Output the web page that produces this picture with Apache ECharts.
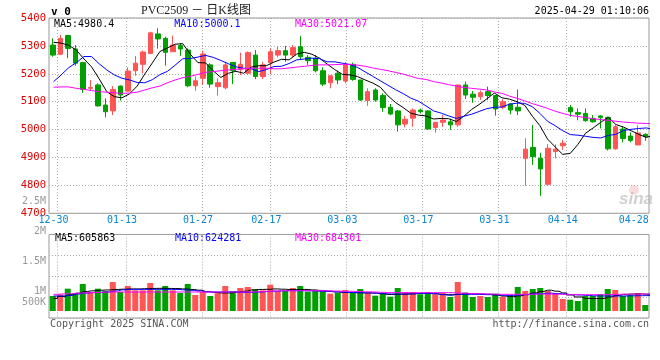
<!DOCTYPE html>
<html>
<head>
<meta charset="utf-8">
<script src="https://cdn.jsdelivr.net/npm/echarts@6/dist/echarts.min.js"></script>
<style>
html,body{margin:0;padding:0;background:#fff;}
#chart{width:660px;height:360px;}
</style>
</head>
<body>
<div id="chart"></div>
<script>
// ---------- data ----------
const dates = ['12-27','12-30','12-31','01-02','01-03','01-06','01-07','01-08','01-09','01-10',
'01-13','01-14','01-15','01-16','01-17','01-20','01-21','01-22','01-23','01-24',
'01-27','02-05','02-06','02-07','02-10','02-11','02-12','02-13','02-14','02-17',
'02-18','02-19','02-20','02-21','02-24','02-25','02-26','02-27','02-28','03-03',
'03-04','03-05','03-06','03-07','03-10','03-11','03-12','03-13','03-14','03-17',
'03-18','03-19','03-20','03-21','03-24','03-25','03-26','03-27','03-28','03-31',
'04-01','04-02','04-03','04-07','04-08','04-09','04-10','04-11','04-14','04-15',
'04-16','04-17','04-18','04-21','04-22','04-23','04-24','04-25','04-28','04-29'];

const opens = [5303,5270,5337,5289,5240,5148,5160,5088,5067,5156,
5138,5211,5234,5273,5343,5327,5279,5301,5285,5157,
5184,5232,5154,5150,5241,5216,5202,5267,5190,5240,
5267,5283,5267,5297,5259,5256,5211,5168,5202,5174,
5234,5178,5104,5142,5122,5080,5067,5020,5041,5070,
5067,5007,5026,5028,5017,5160,5127,5118,5136,5122,
5080,5092,5080,4897,4936,4897,4804,4921,4942,5079,
5061,5058,5040,5049,5044,4931,5002,4977,4945,4983];

const closes = [5267,5327,5291,5238,5144,5151,5085,5064,5144,5124,
5210,5238,5278,5347,5325,5277,5303,5289,5157,5175,
5271,5163,5168,5232,5211,5234,5276,5190,5232,5279,
5283,5267,5294,5261,5247,5211,5163,5193,5178,5234,
5180,5106,5136,5106,5079,5056,5017,5037,5070,5064,
5002,5026,5034,5017,5160,5124,5116,5132,5122,5074,
5100,5070,5067,4930,4903,4859,4933,4930,4951,5064,
5055,5032,5028,5043,4931,5010,4968,4961,4988,4975];

const lows = [5261,5268,5256,5229,5132,5139,5082,5044,5052,5104,
5136,5193,5202,5270,5290,5229,5279,5264,5152,5139,
5160,5150,5122,5144,5163,5196,5198,5181,5181,5199,
5259,5243,5258,5249,5232,5205,5156,5148,5163,5166,
5175,5103,5085,5100,5064,5052,4993,5008,5010,5058,
4999,4989,5010,4999,5010,5110,5096,5106,5106,5050,
5073,5055,5052,4799,4873,4763,4799,4897,4927,5046,
5034,5028,5025,5004,4925,4928,4954,4954,4945,4960];

const highs = [5327,5339,5340,5303,5243,5178,5166,5112,5156,5158,
5223,5264,5283,5351,5363,5333,5337,5309,5291,5190,
5283,5238,5184,5243,5241,5276,5280,5285,5243,5291,
5297,5300,5303,5335,5267,5267,5223,5193,5211,5243,
5240,5178,5148,5148,5130,5092,5070,5049,5076,5075,
5070,5028,5052,5039,5160,5172,5138,5140,5154,5124,
5109,5095,5144,4969,5016,4917,4948,4947,4963,5088,
5076,5076,5052,5052,5046,5016,5010,4990,5016,4987];

const volumes = [599000,665000,891000,718000,1077000,758000,891000,798000,1157000,758000,
998000,825000,825000,1117000,825000,998000,825000,718000,1077000,638000,
758000,599000,758000,998000,798000,918000,958000,865000,825000,1051000,
798000,798000,918000,998000,771000,798000,798000,692000,718000,838000,
732000,878000,718000,612000,692000,572000,918000,758000,758000,665000,
758000,665000,718000,559000,1157000,732000,559000,599000,559000,692000,
559000,625000,958000,798000,878000,918000,798000,692000,479000,452000,
399000,599000,599000,678000,878000,838000,599000,638000,718000,239000];

const ma5 = [5313,5310,5302,5285,5253,5225,5182,5136,5118,5114,
5128,5156,5199,5239,5280,5293,5306,5308,5270,5240,
5239,5211,5187,5202,5209,5202,5224,5229,5229,5242,
5252,5250,5271,5277,5270,5256,5235,5215,5198,5196,
5190,5178,5167,5152,5121,5097,5079,5059,5052,5049,
5038,5040,5039,5029,5048,5072,5090,5110,5131,5114,
5109,5100,5087,5048,5014,4966,4938,4911,4915,4947,
4987,5006,5026,5044,5018,5009,4996,4983,4972,4980.4];

const ma10 = [5172,5196,5222,5240,5262,5262,5236,5214,5196,5184,
5178,5169,5168,5179,5197,5209,5231,5254,5255,5260,
5266,5259,5248,5236,5225,5220,5218,5208,5215,5226,
5227,5237,5250,5253,5256,5254,5243,5243,5238,5233,
5223,5207,5191,5175,5159,5143,5129,5113,5102,5085,
5067,5059,5049,5040,5048,5055,5065,5075,5080,5081,
5091,5095,5094,5082,5058,5030,5014,4996,4982,4980,
4976,4972,4970,4979,4983,4997,5001,5004,5006,5000.1];

const ma30 = [5152,5153,5153,5148,5144,5140,5136,5134,5132,5130,
5131,5134,5142,5150,5156,5168,5178,5186,5191,5198,
5205,5208,5211,5214,5216,5218,5220,5220,5220,5218,
5218,5221,5224,5227,5230,5232,5232,5233,5234,5234,
5231,5227,5221,5216,5211,5205,5199,5191,5183,5180,
5172,5167,5161,5156,5151,5148,5145,5142,5135,5130,
5120,5112,5103,5093,5085,5076,5066,5058,5051,5047,
5043,5039,5036,5033,5030,5027,5025,5023,5022,5021.07];

const volMa5 = [500000,580000,650000,710000,780000,805000,830000,840000,860000,870000,
880000,880000,890000,900000,905000,900000,895000,880000,860000,830000,
780000,740000,720000,720000,745000,790000,840000,860000,865000,880000,
870000,855000,855000,860000,840000,820000,790000,760000,740000,735000,
730000,725000,715000,690000,660000,660000,670000,685000,695000,700000,
690000,660000,650000,660000,700000,690000,680000,665000,640000,595000,
575000,600000,650000,720000,780000,830000,790000,720000,640000,560000,
500000,495000,500000,560000,620000,665000,675000,680000,670000,605863];

const volMa10 = [599000,599000,620000,680000,715000,735000,745000,758000,800000,845000,
865000,865000,865000,865000,865000,865000,860000,845000,825000,800000,
760000,758000,758000,758000,758000,740000,745000,758000,775000,790000,
805000,811000,811000,811000,805000,790000,780000,765000,750000,740000,
730000,725000,718000,700000,680000,678000,678000,685000,700000,700000,
692000,650000,630000,665000,665000,665000,660000,652000,645000,628000,
625000,635000,660000,685000,692000,712000,695000,680000,655000,640000,
625000,605000,599000,599000,600000,600000,605000,610000,615000,624281];

const volMa30 = [665000,678000,690000,710000,725000,735000,745000,758000,758000,758000,
758000,758000,758000,758000,758000,758000,758000,758000,758000,758000,
758000,758000,758000,758000,758000,758000,758000,770000,785000,798000,
805000,811000,811000,811000,811000,811000,805000,795000,785000,785000,
775000,765000,758000,745000,732000,732000,732000,732000,732000,732000,
732000,732000,732000,718000,710000,692000,685000,680000,672000,665000,
665000,665000,665000,670000,678000,675000,670000,665000,655000,652000,
652000,652000,652000,660000,665000,670000,675000,678000,680000,684301];

const xTickLabels = ['12-30','01-13','01-27','02-17','03-03','03-17','03-31','04-14','04-28'];
const volTickValues = [500000,1000000,1500000,2000000,2500000];
const volTickLabels = ['500K','1M','1.5M','2M','2.5M'];

const headerTitle = 'PVC2509 － 日K线图';
const headerMark = 'v 0';
const stamp = '2025-04-29 01:10:06';
const copyright = 'Copyright 2025 SINA.COM';
const siteUrl = 'http://finance.sina.com.cn';

// ---------- build ----------
const RED = '#ff5555', GREEN = '#00a000';
const MONO = '"DejaVu Sans Mono", "Liberation Mono", monospace';
const GRID_LINE = {show: true, lineStyle: {color: '#aaaaaa', width: 1, type: [1, 2]}};

const candleData = opens.map((o, i) => [o, closes[i], lows[i], highs[i]]);
const volData = volumes.map((v, i) => ({
  value: v,
  itemStyle: {color: closes[i] >= opens[i] ? RED : GREEN}
}));
const pts = arr => arr.map((v, i) => [i, v]);

// slot-boundary positions of the date labels on the day-index axis
const labelPos = xTickLabels.map(d => dates.indexOf(d) - 0.5);
const gridPos = labelPos.slice(0, labelPos.length - 1);
const lastLabel = xTickLabels[xTickLabels.length - 1];
const labelAt = v => {
  const k = labelPos.findIndex(p => Math.abs(p - v) < 0.01);
  if (k < 0) return '';
  const t = xTickLabels[k];
  return t === lastLabel ? '{e|' + t + '}' : t;
};

const chart = echarts.init(document.getElementById('chart'), null, {renderer: 'canvas'});

const option = {
  animation: false,
  backgroundColor: '#ffffff',
  grid: [
    {left: 49, right: 11, top: 18, height: 195.3, show: true, borderColor: '#999999', borderWidth: 1, backgroundColor: 'transparent'},
    {left: 49, right: 11, top: 234.5, height: 83.5, show: true, borderColor: '#999999', borderWidth: 1, backgroundColor: 'transparent'},
    {left: 49, right: 11, top: 201, height: 120, show: false}
  ],
  xAxis: [
    {type: 'category', gridIndex: 0, data: dates, boundaryGap: true, position: 'top', show: false},
    {type: 'value', gridIndex: 0, min: -0.6, max: 78.35, position: 'bottom',
      axisLine: {show: false},
      axisTick: {show: false, customValues: gridPos},
      axisLabel: {
        customValues: labelPos, formatter: labelAt, margin: 2,
        color: '#0a86d4', fontFamily: MONO, fontSize: 10,
        padding: [0, 7.6, 0, 0],
        rich: {e: {color: '#0a86d4', fontFamily: MONO, fontSize: 10, padding: [0, 10, 0, 0]}}
      },
      splitLine: GRID_LINE},
    {type: 'category', gridIndex: 1, data: dates, boundaryGap: true, position: 'top', show: false},
    {type: 'value', gridIndex: 1, min: -0.6, max: 78.35, position: 'bottom',
      axisLine: {show: false},
      axisTick: {show: false, customValues: gridPos},
      axisLabel: {show: false},
      splitLine: GRID_LINE},
    {type: 'value', gridIndex: 2, show: false, min: 0, max: 1}
  ],
  yAxis: [
    {type: 'value', gridIndex: 0, min: 4700, max: 5400, interval: 100,
      axisLine: {show: false}, axisTick: {show: false},
      axisLabel: {color: '#e00000', fontFamily: MONO, fontSize: 10.5, margin: 3, formatter: v => String(v)},
      splitLine: GRID_LINE},
    {type: 'value', gridIndex: 1, min: -279300, max: 3052350, show: false},
    {type: 'value', gridIndex: 1, min: 0, max: 4, interval: 1, position: 'right',
      axisLine: {show: false}, axisTick: {show: false}, axisLabel: {show: false},
      splitLine: GRID_LINE},
    {type: 'value', gridIndex: 2, min: 500000, max: 2500000, interval: 500000,
      axisLine: {show: false}, axisTick: {show: false}, splitLine: {show: false},
      axisLabel: {
        color: '#999999', fontFamily: MONO, fontSize: 10, margin: 3,
        formatter: v => {
          const k = volTickValues.indexOf(v);
          if (k < 0) return '';
          return k === 0 ? '{lo|' + volTickLabels[k] + '}' : volTickLabels[k];
        },
        rich: {lo: {color: '#999999', fontFamily: MONO, fontSize: 10, padding: [0, 0, 38, 0]}}
      }}
  ],
  series: [
    {type: 'candlestick', xAxisIndex: 0, yAxisIndex: 0, data: candleData, barWidth: 5,
      itemStyle: {color: RED, color0: GREEN, borderColor: RED, borderColor0: GREEN, borderWidth: 1}},
    {type: 'line', name: 'MA5', xAxisIndex: 1, yAxisIndex: 0, data: pts(ma5), showSymbol: false, symbol: 'none',
      lineStyle: {color: '#000000', width: 1}},
    {type: 'line', name: 'MA10', xAxisIndex: 1, yAxisIndex: 0, data: pts(ma10), showSymbol: false, symbol: 'none',
      lineStyle: {color: '#0000ff', width: 1}},
    {type: 'line', name: 'MA30', xAxisIndex: 1, yAxisIndex: 0, data: pts(ma30), showSymbol: false, symbol: 'none',
      lineStyle: {color: '#ff00ff', width: 1}},
    {type: 'bar', xAxisIndex: 2, yAxisIndex: 1, data: volData, barWidth: 6},
    {type: 'line', xAxisIndex: 3, yAxisIndex: 1, data: pts(volMa5), step: 'middle', symbol: 'none',
      lineStyle: {color: '#000000', width: 1}},
    {type: 'line', xAxisIndex: 3, yAxisIndex: 1, data: pts(volMa10), step: 'middle', symbol: 'none',
      lineStyle: {color: '#0000ff', width: 1}},
    {type: 'line', xAxisIndex: 3, yAxisIndex: 1, data: pts(volMa30), step: 'middle', symbol: 'none',
      lineStyle: {color: '#ff00ff', width: 1}}
  ],
  graphic: [
    {type: 'text', x: 51, y: 12, style: {text: headerMark, font: 'bold 11px ' + MONO, fill: '#000', textVerticalAlign: 'middle'}},
    {type: 'text', x: 141, y: 10.5, style: {text: headerTitle, font: '12px "Liberation Serif", "Noto Sans CJK SC", serif', fill: '#222', textVerticalAlign: 'middle'}},
    {type: 'text', x: 649, y: 11.5, style: {text: stamp, font: '10px ' + MONO, fill: '#000', textAlign: 'right', textVerticalAlign: 'middle'}},
    {type: 'text', x: 54, y: 24, style: {text: 'MA5:' + ma5[ma5.length - 1], font: '10px ' + MONO, fill: '#000', textVerticalAlign: 'middle'}},
    {type: 'text', x: 174.3, y: 24, style: {text: 'MA10:' + ma10[ma10.length - 1], font: '10px ' + MONO, fill: '#0000ff', textVerticalAlign: 'middle'}},
    {type: 'text', x: 295, y: 24, style: {text: 'MA30:' + ma30[ma30.length - 1], font: '10px ' + MONO, fill: '#ff00ff', textVerticalAlign: 'middle'}},
    {type: 'text', x: 55, y: 238.5, style: {text: 'MA5:' + volMa5[volMa5.length - 1], font: '10px ' + MONO, fill: '#000', textVerticalAlign: 'middle'}},
    {type: 'text', x: 175, y: 238.5, style: {text: 'MA10:' + volMa10[volMa10.length - 1], font: '10px ' + MONO, fill: '#0000ff', textVerticalAlign: 'middle'}},
    {type: 'text', x: 295, y: 238.5, style: {text: 'MA30:' + volMa30[volMa30.length - 1], font: '10px ' + MONO, fill: '#ff00ff', textVerticalAlign: 'middle'}},
    {type: 'text', x: 50, y: 324, style: {text: copyright, font: '10px ' + MONO, fill: '#555', textVerticalAlign: 'middle'}},
    {type: 'text', x: 649, y: 324, style: {text: siteUrl, font: '10px ' + MONO, fill: '#555', textAlign: 'right', textVerticalAlign: 'middle'}},
    {type: 'circle', shape: {cx: 634, cy: 190, r: 5}, style: {fill: 'rgba(240,150,150,0.35)'}, z: 1},
    {type: 'text', x: 619, y: 199, style: {text: 'sina', font: 'italic bold 17px "Liberation Sans", Arial, sans-serif', fill: 'rgba(170,170,170,0.55)', textVerticalAlign: 'middle'}, z: 1}
  ]
};

chart.setOption(option);
</script>
</body>
</html>
